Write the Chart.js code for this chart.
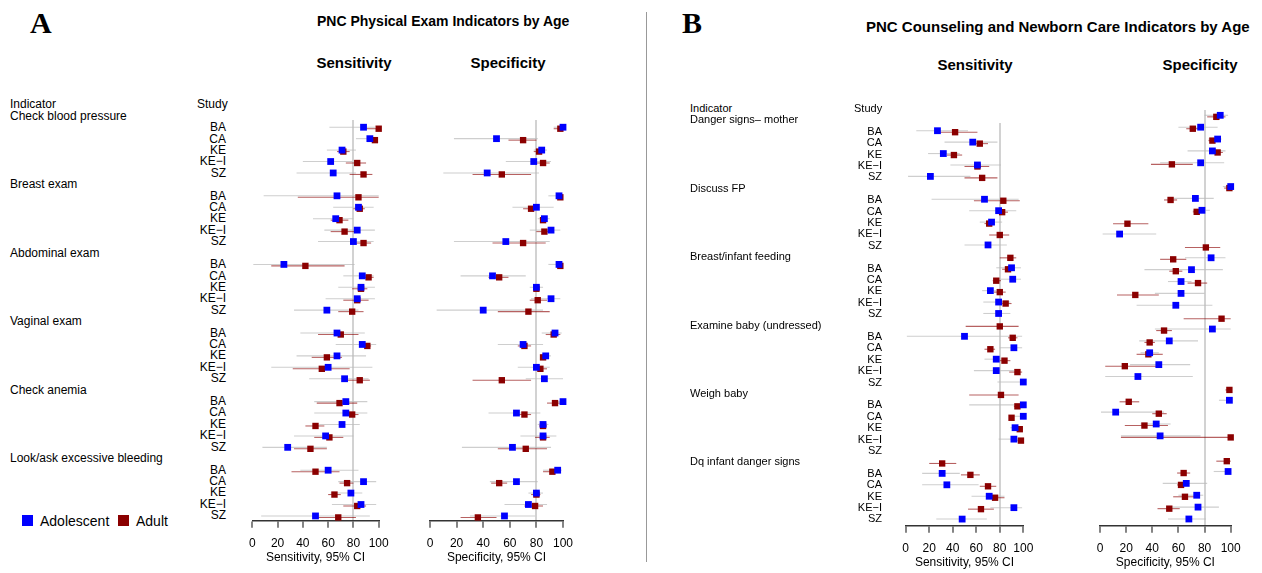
<!DOCTYPE html>
<html>
<head>
<meta charset="utf-8">
<script src="https://cdn.jsdelivr.net/npm/chart.js@4.4.1/dist/chart.umd.min.js"></script>
<style>
  body { margin: 0; background: #fff; }
  #page { position: relative; width: 1262px; height: 573px; overflow: hidden;
          font-family: 'Liberation Sans', Arial, sans-serif; color: #000; }
  .t { position: absolute; white-space: nowrap; font-size: 12px; line-height: 14px; }
  .s11 { font-size: 11px; }
  .h { font-weight: bold; font-size: 15px; line-height: 16px; }
  .h14 { font-size: 14px; }
  .c { transform: translateX(-50%); }
  .big { position: absolute; font-family: 'Liberation Serif', serif; font-weight: bold;
         font-size: 30px; line-height: 30px; }
  .sq { position: absolute; width: 11px; height: 11px; }
  canvas { position: absolute; }
</style>
</head>
<body>
<div id="page">
  <div class="big" style="left:30px; top:8px;">A</div>
  <div class="big" style="left:682px; top:8px;">B</div>
  <div id="sep" style="position:absolute; left:646px; top:12px; width:1px; height:550px; background:#999;"></div>
  <canvas id="aSens"></canvas>
  <canvas id="aSpec"></canvas>
  <canvas id="bSens"></canvas>
  <canvas id="bSpec"></canvas>
</div>
<script>
// labels
const studies = ['BA', 'CA', 'KE', 'KE\u2212I', 'SZ'];
const indicatorsA = ['Check blood pressure', 'Breast exam', 'Abdominal exam',
                     'Vaginal exam', 'Check anemia', 'Look/ask excessive bleeding'];
const indicatorsB = ['Danger signs\u2013 mother', 'Discuss FP', 'Breast/infant feeding',
                     'Examine baby (undressed)', 'Weigh baby', 'Dq infant danger signs'];
const xTicks = [0, 20, 40, 60, 80, 100];
const refValue = 80;

// Panel A: [estimate, lower, upper] per indicator, studies BA CA KE KE-I SZ
const aSensAdol = [
  [[88,61,97], [93,82,99], [71,59,82], [62,40,79], [64,35,82]],
  [[67,9,100], [84,64,96], [66,48,80], [83,57,97], [80,52,96]],
  [[25,0,81], [87,72,96], [86,68,97], [83,58,97], [59,33,84]],
  [[67,38,89], [87,66,98], [67,35,90], [60,15,95], [73,45,92]],
  [[74,49,91], [74,49,91], [71,53,85], [58,33,80], [28,8,59]],
  [[60,38,84], [88,68,98], [78,62,87], [86,63,98], [50,7,93]]
];
const aSensAdult = [
  [[100,90,100], [97,93,99], [72,67,77], [83,74,90], [88,77,95]],
  [[84,36,100], [85,80,89], [69,62,76], [73,62,83], [88,80,94]],
  [[42,15,73], [92,87,96], [86,79,91], [83,72,92], [79,68,88]],
  [[70,52,84], [91,88,94], [59,47,71], [55,32,77], [85,75,93]],
  [[69,51,83], [79,75,84], [50,42,57], [61,49,72], [46,33,59]],
  [[50,31,69], [75,69,80], [65,60,70], [83,72,90], [68,50,82]]
];
const aSpecAdol = [
  [[100,93,100], [50,18,81], [84,78,88], [78,57,91], [43,10,82]],
  [[97,89,100], [80,62,93], [86,81,90], [91,75,98], [57,18,90]],
  [[97,89,99], [47,23,72], [80,75,85], [91,76,98], [40,5,85]],
  [[94,84,99], [70,51,85], [87,83,91], [80,66,90], [86,72,100]],
  [[100,92,100], [65,44,83], [85,81,89], [85,68,95], [62,24,91]],
  [[96,85,99], [65,45,81], [80,74,85], [74,56,88], [56,30,79]]
];
const aSpecAdult = [
  [[98,93,100], [70,59,80], [82,78,84], [85,80,90], [54,32,76]],
  [[98,95,100], [76,70,78], [85,83,88], [86,80,90], [70,47,87]],
  [[98,95,100], [52,44,59], [80,78,82], [81,75,88], [74,51,90]],
  [[93,87,98], [71,66,76], [85,83,88], [83,78,88], [54,32,76]],
  [[94,88,99], [71,66,76], [85,82,88], [85,79,90], [72,51,88]],
  [[92,85,98], [52,46,58], [80,76,83], [79,71,85], [36,23,50]]
];

// Panel B: one entry per plot row (indicator row + 5 study rows), null = no mark
const bSensAdol = [
  null, [27,9,53], [57,33,78], [32,19,46], [61,38,81], [21,2,55],
  null, [67,22,96], [79,54,94], [73,63,82], null, [70,50,86],
  null, [90,77,98], [91,80,98], [72,65,77], [79,66,89], [79,66,89],
  null, [50,1,99], [92,80,99], [77,67,86], [77,58,92], [100,78,100],
  null, [100,54,100], [100,92,100], [93,89,97], [92,79,99], null,
  null, [31,14,46], [35,14,62], [71,56,84], [92,72,99], [48,26,69]
];
const bSensAdult = [
  null, [42,29,61], [63,58,70], [41,35,48], [61,50,71], [65,50,78],
  null, [83,58,97], [82,79,87], [71,67,74], [80,71,88], null,
  [89,80,94], [87,82,92], [77,74,81], [80,75,85], [85,80,90], null,
  [80,51,96], [91,87,95], [72,67,76], [84,80,89], [95,88,99], null,
  [81,54,96], [95,92,99], [90,88,92], [97,95,99], [98,95,99], null,
  [31,20,43], [55,47,63], [70,63,77], [76,72,84], [64,53,75], null
];
const bSpecAdol = [
  null, [92,80,98], [77,60,90], [90,83,93], [86,67,96], [77,46,95],
  null, [100,94,100], [73,54,87], [78,71,84], null, [15,2,43],
  null, [85,65,96], [70,34,94], [62,52,70], [62,42,80], [58,28,86],
  null, [86,42,100], [53,30,75], [38,31,45], [45,23,69], [29,4,71],
  null, [99,91,100], [12,0,49], [43,31,54], [46,16,77], null,
  null, [98,87,100], [66,48,82], [74,60,79], [75,54,91], [68,52,81]
];
const bSpecAdult = [
  null, [89,82,96], [71,66,75], [86,83,88], [90,87,94], [55,39,71],
  null, [99,95,100], [54,49,59], [74,71,78], [21,10,37], null,
  [81,65,92], [56,46,66], [58,53,63], [75,67,82], [27,13,45], null,
  [93,64,100], [49,43,55], [38,34,42], [37,28,48], [19,4,43], null,
  [99,96,100], [22,15,30], [45,40,51], [34,19,52], [100,16,100], null,
  [97,89,100], [64,59,69], [62,59,65], [65,56,73], [53,44,61], null
];

const BLUE = '#0000ff';
const DARKRED = '#8b0000';
const page = document.getElementById('page');
Chart.defaults.font.family = "'Liberation Sans', Arial, sans-serif";

// turn panel A groups into per-row lists (row 0 of each block is the indicator label)
function groupsToRows(groups) {
  const rows = [];
  groups.forEach(g => { rows.push(null); g.forEach(v => rows.push(v)); });
  return rows;
}

function addText(txt, cls, left, cy, lh, right) {
  const d = document.createElement('div');
  d.className = 't ' + cls;
  d.textContent = txt;
  d.style.top = (cy - lh / 2) + 'px';
  if (right !== undefined) { d.style.right = (1262 - right) + 'px'; d.style.textAlign = 'right'; }
  else d.style.left = left + 'px';
  page.appendChild(d);
}

// pixel layout of each plot: x0/x1 = pixels of 0 and 100, top/bottom = plot area,
// y0/dy = pixel of row 0 and row spacing
const layout = {
  aSens: { x0: 252.3, x1: 378.7, top: 120, bottom: 520, y0: 115.8, dy: 11.41 },
  aSpec: { x0: 430, x1: 563, top: 120, bottom: 520, y0: 115.8, dy: 11.41 },
  bSens: { x0: 905.7, x1: 1023.3, top: 123, bottom: 525, y0: 119.3, dy: 11.4 },
  bSpec: { x0: 1100, x1: 1230.7, top: 110, bottom: 525, y0: 103.45, dy: 11.85 }
};
const AXIS_H = 48.6;

function makeChart(id, rowsAdol, rowsAdult, axisTitle) {
  const L = layout[id];
  const cv = document.getElementById(id);
  const cl = Math.floor(L.x0) - 22;
  const cw = Math.ceil(L.x1) + 22 - cl;
  const ct = Math.floor(L.top);
  const ch = Math.ceil(L.bottom + AXIS_H) - ct + 1;
  cv.width = cw; cv.height = ch;
  cv.style.left = cl + 'px'; cv.style.top = ct + 'px';
  cv.style.width = cw + 'px'; cv.style.height = ch + 'px';
  const pad = {
    left: L.x0 - cl, right: cw - (L.x1 - cl),
    top: L.top - ct, bottom: ch - AXIS_H - (L.bottom - ct)
  };
  const adultOff = 0.13;
  const bars = (rows, off) => rows.map((v, r) => v && { x: [v[1], v[2]], y: r + off }).filter(Boolean);
  const pts = (rows, off) => rows.map((v, r) => v && { x: v[0], y: r + off }).filter(Boolean);

  return new Chart(cv, {
    type: 'scatter',
    data: {
      datasets: [
        { type: 'scatter', label: 'Adolescent', data: pts(rowsAdol, 0), order: 1,
          pointStyle: 'rect', pointRadius: 4.8, pointBorderWidth: 0, backgroundColor: BLUE, clip: false },
        { type: 'scatter', label: 'Adult', data: pts(rowsAdult, adultOff), order: 2,
          pointStyle: 'rect', pointRadius: 4.5, pointBorderWidth: 0, backgroundColor: DARKRED, clip: false },
        { type: 'bar', indexAxis: 'y', label: 'Adult CI', data: bars(rowsAdult, adultOff), order: 3,
          grouped: false, maxBarThickness: 2.2, borderWidth: 0,
          backgroundColor: 'rgba(139,0,0,0.62)', clip: false },
        { type: 'bar', indexAxis: 'y', label: 'Adolescent CI', data: bars(rowsAdol, 0), order: 4,
          grouped: false, maxBarThickness: 2.6, borderWidth: 0,
          backgroundColor: 'rgba(185,185,185,0.7)', clip: false }
      ]
    },
    options: {
      responsive: false,
      animation: false,
      events: [],
      layout: { padding: pad, autoPadding: false },
      plugins: { legend: { display: false }, tooltip: { enabled: false } },
      scales: {
        x: {
          type: 'linear', min: 0, max: 100, offset: false,
          afterBuildTicks: s => { s.ticks = xTicks.map(v => ({ value: v })); },
          ticks: { color: '#000', font: { size: 12 }, padding: 9, autoSkip: false, maxRotation: 0 },
          grid: {
            drawOnChartArea: true, drawTicks: true, tickLength: 7,
            color: c => (c.tick && c.tick.value === refValue) ? '#d2d2d2' : 'rgba(0,0,0,0)',
            lineWidth: 2, tickColor: '#333', tickWidth: 1.2
          },
          border: { display: true, color: '#333', width: 1.5 },
          title: { display: true, text: axisTitle, color: '#000', font: { size: 12 },
                   padding: { top: -10, bottom: 4 } }
        },
        y: {
          type: 'linear', display: false, reverse: true, offset: false,
          min: (L.top - L.y0) / L.dy, max: (L.bottom - L.y0) / L.dy
        }
      }
    }
  });
}

makeChart('aSens', groupsToRows(aSensAdol), groupsToRows(aSensAdult), 'Sensitivity, 95% CI');
makeChart('aSpec', groupsToRows(aSpecAdol), groupsToRows(aSpecAdult), 'Specificity, 95% CI');
makeChart('bSens', bSensAdol, bSensAdult, 'Sensitivity, 95% CI');
makeChart('bSpec', bSpecAdol, bSpecAdult, 'Specificity, 95% CI');

// headings
addText('PNC Physical Exam Indicators by Age', 'h h14', 317, 21, 16);
addText('PNC Counseling and Newborn Care Indicators by Age', 'h', 866, 27, 16);
addText('Sensitivity', 'h c', 354, 63, 16);
addText('Specificity', 'h c', 508, 63, 16);
addText('Sensitivity', 'h c', 975, 65, 16);
addText('Specificity', 'h c', 1200, 65, 16);

// indicator / study labels
function rowLabels(L, indicators, xInd, xStudyHead, xStudyRight, cls) {
  addText('Indicator', cls, xInd, L.y0 - L.dy, 14);
  addText('Study', cls, xStudyHead, L.y0 - L.dy, 14);
  indicators.forEach((name, g) => {
    addText(name, cls, xInd, L.y0 + L.dy * 6 * g, 14);
    studies.forEach((s, k) => addText(s, cls, 0, L.y0 + L.dy * (6 * g + 1 + k), 14, xStudyRight));
  });
}
rowLabels(layout.aSens, indicatorsA, 10, 197, 226, '');
rowLabels(layout.bSens, indicatorsB, 690, 854, 882, 's11');

// legend
[['Adolescent', BLUE, 22, 40], ['Adult', DARKRED, 118, 136]].forEach(([txt, col, sx, tx]) => {
  const sq = document.createElement('div');
  sq.className = 'sq';
  sq.style.left = sx + 'px'; sq.style.top = '515px'; sq.style.background = col;
  page.appendChild(sq);
  const d = document.createElement('div');
  d.className = 't';
  d.style.fontSize = '14px'; d.style.lineHeight = '16px';
  d.style.left = tx + 'px'; d.style.top = '513px';
  d.textContent = txt;
  page.appendChild(d);
});
</script>
</body>
</html>
